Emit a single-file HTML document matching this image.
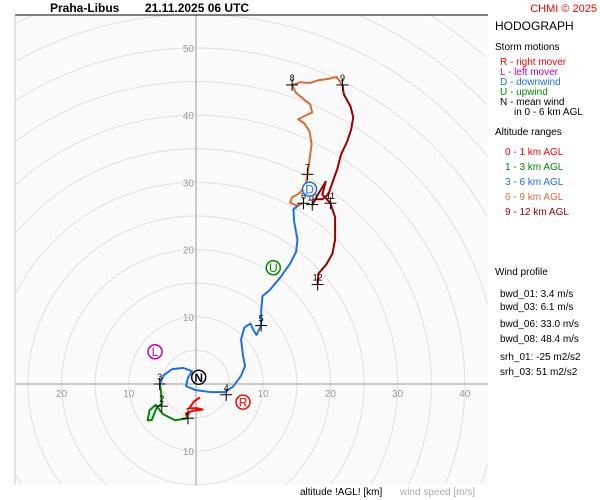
<!DOCTYPE html>
<html><head><meta charset="utf-8"><style>
html,body{margin:0;padding:0;width:600px;height:500px;overflow:hidden;background:#fff;font-family:"Liberation Sans",sans-serif}
svg{display:block}
</style></head><body>
<svg id="c" width="600" height="500" xmlns="http://www.w3.org/2000/svg">
<rect x="0" y="0" width="600" height="500" fill="#fff"/>
<rect x="15" y="15" width="473" height="470" fill="#fafafa"/>
<g id="grid"></g>
<g id="marks"></g>
<line x1="15" y1="15" x2="488" y2="15" stroke="#000" stroke-width="1"/>
<line x1="15" y1="15" x2="15" y2="485" stroke="#ccc" stroke-width="1"/>
<text x="50" y="12" font-size="12" font-weight="bold">Praha-Libus</text>
<text x="145" y="12" font-size="12" font-weight="bold">21.11.2025 06 UTC</text>
<text x="597" y="12" font-size="11" fill="#f00" text-anchor="end">CHMI © 2025</text>
<g font-size="11">
<text x="495" y="30" font-size="12">HODOGRAPH</text>
<text x="495" y="50" font-size="10">Storm motions</text>
<text x="500" y="65" font-size="10" fill="#f00">R - right mover</text>
<text x="500" y="75" font-size="10" fill="#b0b">L - left mover</text>
<text x="500" y="85" font-size="10" fill="#1e6fe0">D - downwind</text>
<text x="500" y="95" font-size="10" fill="#080">U - upwind</text>
<text x="500" y="105" font-size="10">N - mean wind</text>
<text x="514" y="115" font-size="10">in 0 - 6 km AGL</text>
<text x="495" y="135" font-size="10">Altitude ranges</text>
<text x="505" y="155" font-size="10" fill="#f00">0 - 1 km AGL</text>
<text x="505" y="170" font-size="10" fill="#080">1 - 3 km AGL</text>
<text x="505" y="185" font-size="10" fill="#1e6fe0">3 - 6 km AGL</text>
<text x="505" y="200" font-size="10" fill="#d2703a">6 - 9 km AGL</text>
<text x="505" y="215" font-size="10" fill="#990000">9 - 12 km AGL</text>
<text x="495" y="275" font-size="10">Wind profile</text>
<text x="500" y="297" font-size="10">bwd_01: 3.4 m/s</text>
<text x="500" y="310" font-size="10">bwd_03: 6.1 m/s</text>
<text x="500" y="327" font-size="10">bwd_06: 33.0 m/s</text>
<text x="500" y="342" font-size="10">bwd_08: 48.4 m/s</text>
<text x="500" y="360" font-size="10">srh_01: -25 m2/s2</text>
<text x="500" y="375" font-size="10">srh_03: 51 m2/s2</text>
</g>
<text x="300" y="495" font-size="10">altitude !AGL! [km]</text>
<text x="400" y="495" font-size="10" fill="#aaa">wind speed [m/s]</text>
</svg>
<script>
const cx=196, cy=384, S=6.72;
const ringSpeeds=[5,10,15,20,25,30,35,40,45,50,55,60,65,70,75];
const xTickLabels=[-20,-10,10,20,30,40];
const yTickLabels=[50,40,30,20,10,-10];
const seg01u=[0.6,-0.3,-1.0,0.2,1.0,-0.5,-1.5,-1.2];
const seg01v=[-2.0,-2.6,-3.6,-3.6,-3.8,-4.0,-4.4,-5.1];
const seg13u=[-1.2,-3.1,-4.9,-6.0,-6.9,-7.2,-6.6,-5.8,-5.1,-5.2,-5.4];
const seg13v=[-5.1,-5.4,-4.5,-3.1,-3.9,-5.4,-5.4,-3.4,-3.0,-1.2,0];
const seg36u=[-5.4,-4.8,-3.6,-1.9,-0.6,-1.2,-1.5,-0.1,2.1,4.3,5.5,6.7,7.3,7.0,6.7,7.2,8.1,8.5,9.0,9.7,9.7,9.9,11.0,12.5,14.0,14.9,15.1,14.6,14.5,15.4,16.0];
const seg36v=[0,1.3,2.2,2.4,1.9,0.9,-0.3,-0.9,-1.2,-1.2,-0.4,1.2,2.7,4.2,6.6,8.4,9.0,8.1,7.3,8.7,11.0,13.1,14.0,15.8,17.9,19.7,21.5,24.2,26.0,26.7,26.9];
const seg69u=[16.0,14.8,14.0,14.3,14.9,15.5,16.3,16.6,16.9,17.2,16.9,16.1,15.2,16.6,17.3,17.0,16.0,14.9,14.3,15.5,17.0,18.2,19.7,20.9,21.8];
const seg69v=[26.9,26.6,27.0,27.8,28.1,28.5,29.6,31.2,33.4,35.7,37.6,38.8,39.4,40.1,40.4,41.6,42.4,43.3,44.5,44.9,44.8,45.2,45.4,45.7,44.5];
const seg912u=[21.8,22.0,23.0,23.4,23.1,22.5,21.6,21.0,20.3,19.7,18.8,17.8,17.3,17.9,19.3,18.8,20.0,20.7,20.7,20.3,19.4,18.2,18.1];
const seg912v=[44.5,43.1,41.3,39.7,37.9,36.1,34.2,31.9,30.0,28.2,27.5,27.5,26.7,27.8,30.1,28.2,26.9,24.8,21.5,19.4,17.8,16.4,14.8];
const altLabels=["1","2","3","4","5","6","7","8","9","10","11","12"];
const altU=[-1.2,-5.1,-5.4,4.5,9.7,16.0,16.6,14.3,21.8,17.3,20.0,18.1];
const altV=[-5.1,-3.3,0,-1.6,8.7,26.9,31.2,44.5,44.5,26.7,26.9,14.8];
const stormLabels=["R","L","D","U","N"];
const stormU=[7.0,-6.1,16.9,11.5,0.4];
const stormV=[-2.7,4.8,29.0,17.3,1.0];
const stormColors=["#f00","#b0b","#1e6fe0","#080","#000"];

const NS="http://www.w3.org/2000/svg";
const X=u=>cx+u*S, Y=v=>cy-v*S;
const L=15,R=488,T=15,B=485;
function mk(tag,attrs,parent){const e=document.createElementNS(NS,tag);for(const k in attrs)e.setAttribute(k,attrs[k]);parent.appendChild(e);return e;}
const grid=document.getElementById('grid'), marks=document.getElementById('marks');
ringSpeeds.forEach(r=>{
  const rad=r*S; let d='', pen=false;
  for(let k=0;k<=720;k++){const th=k/720*2*Math.PI;const x=cx+rad*Math.cos(th), y=cy+rad*Math.sin(th);
    const inside=x>=L&&x<=R&&y>=T&&y<=B;
    if(inside){d+=(pen?'L':'M')+x.toFixed(1)+' '+y.toFixed(1);pen=true;}else pen=false;}
  if(!d) return;
  const c=mk('path',{d:d,fill:'none',stroke:'#e0e0e0','stroke-width':1},grid);
  
  });
let a=mk('line',{x1:L,y1:cy,x2:R,y2:cy,stroke:'#999','stroke-width':1},grid);


a=mk('line',{x1:cx,y1:T,x2:cx,y2:B,stroke:'#999','stroke-width':1},grid);


xTickLabels.forEach(t=>{const e=mk('text',{x:X(t),y:cy+13,'font-size':10,fill:'#999','text-anchor':'middle'},grid);e.textContent=Math.abs(t);

});
yTickLabels.forEach(t=>{const e=mk('text',{x:cx-2,y:Y(t)+4,'font-size':10,fill:'#999','text-anchor':'end'},grid);e.textContent=Math.abs(t);

});
function seg(us,vs,col,name){const p=mk('polyline',{points:us.map((u,i)=>X(u)+','+Y(vs[i])).join(' '),fill:'none',stroke:col,'stroke-width':2,'stroke-linejoin':'round'},marks);

}
seg(seg01u,seg01v,'#f00','trace-0-1km');
seg(seg13u,seg13v,'#080','trace-1-3km');
seg(seg36u,seg36v,'#1e6fe0','trace-3-6km');
seg(seg69u,seg69v,'#d2703a','trace-6-9km');
seg(seg912u,seg912v,'#990000','trace-9-12km');
altLabels.forEach((l,i)=>{const x=X(altU[i]),y=Y(altV[i]);
const g=mk('g',{},marks);


mk('line',{x1:x-6,y1:y,x2:x+6,y2:y,stroke:'#000','stroke-width':1},g);
mk('line',{x1:x,y1:y-6,x2:x,y2:y+6,stroke:'#000','stroke-width':1},g);
const t=mk('text',{x:x,y:y-4,'font-size':9,'text-anchor':'middle',fill:'#000'},g);t.textContent=l;});
stormLabels.forEach((l,i)=>{const x=X(stormU[i]),y=Y(stormV[i]);
const g=mk('g',{},marks);


mk('circle',{cx:x,cy:y,r:7,fill:'#fff',stroke:stormColors[i],'stroke-width':1.5},g);
const t=mk('text',{x:x,y:y+4.5,'font-size':12,'text-anchor':'middle',fill:stormColors[i],'font-weight':l==='N'?'bold':'normal'},g);t.textContent=l;});
</script>
</body></html>
